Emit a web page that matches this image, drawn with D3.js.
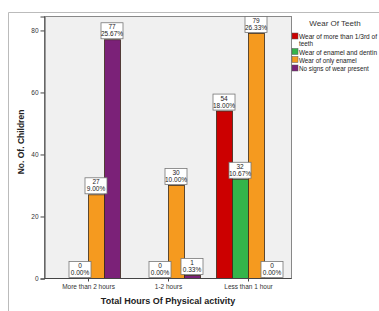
<!DOCTYPE html>
<html lang="en">
  <head>
    <meta charset="utf-8">
    <title>Wear Of Teeth</title>
    <style>
		body{
			margin:0;
			padding:0;
			background:#fff;
		}
		svg{
			display:block;
			font-family:"Liberation Sans", Arial, Helvetica, sans-serif;
		}
		.tick text{
			fill:#333;
			font-size:6.5px;
		}
		.lbl rect{
			fill:#fff;
			stroke:#777;
			stroke-width:0.8;
		}
		.lbl text{
			font-size:6.5px;
			fill:#222;
		}
    </style>
  </head>
  <body>

   <div id="container"></div>

	<script src="https://cdn.jsdelivr.net/npm/d3@7"></script>
	<script type="text/javascript">

		// categories and series
		var categories = ["More than 2 hours", "1-2 hours", "Less than 1 hour"];
		var series = ["Wear of more than 1/3rd of teeth", "Wear of enamel and dentin", "Wear of only enamel", "No signs of wear present"];
		var colors = ["#cc0000", "#34b44a", "#f59a1f", "#7b2178"];

		// counts per series, one value per category (null = not shown)
		var moreThanThird = [null, null, 54];
		var enamelDentin  = [0, 0, 32];
		var onlyEnamel    = [27, 30, 79];
		var noWear        = [77, 1, 0];

		// percentage labels
		var moreThanThirdPct = [null, null, "18.00%"];
		var enamelDentinPct  = ["0.00%", "0.00%", "10.67%"];
		var onlyEnamelPct    = ["9.00%", "10.00%", "26.33%"];
		var noWearPct        = ["25.67%", "0.33%", "0.00%"];

		var yTicks = [0, 20, 40, 60, 80];

		var values = [moreThanThird, enamelDentin, onlyEnamel, noWear];
		var pcts = [moreThanThirdPct, enamelDentinPct, onlyEnamelPct, noWearPct];

		var width = 379,
			height = 311,
			plot = {left:44, top:16, right:291, bottom:278};

		var svg = d3.select('#container').append('svg')
			.attr('width', width).attr('height', height);

		// outer frame
		svg.append('path')
			.attr('d', 'M8.5,' + height + 'V12.5H' + width)
			.attr('fill', 'none')
			.attr('stroke', '#bbb')
			.attr('stroke-width', 1);

		var y = d3.scaleLinear().domain([0, 84.5]).range([plot.bottom, plot.top]);
		var x0 = d3.scaleBand().domain(categories).range([48, 288]);
		var x1 = d3.scaleBand().domain(series).range([0, 64]);

		// plot background
		svg.append('rect')
			.attr('x', plot.left + 0.5).attr('y', plot.top + 0.5)
			.attr('width', plot.right - plot.left).attr('height', plot.bottom - plot.top)
			.attr('fill', '#f0f0f0')
			.attr('stroke', '#888')
			.attr('stroke-width', 1);

		// bars
		var rows = [];
		series.forEach(function(s, si){
			categories.forEach(function(c, ci){
				if(values[si][ci] !== null){
					rows.push({s:s, si:si, c:c, v:values[si][ci], p:pcts[si][ci]});
				}
			});
		});

		var barX = function(d){ return x0(d.c) + (x0.bandwidth() - 64) / 2 + x1(d.s); };

		svg.append('g').selectAll('rect').data(rows.filter(function(d){ return d.v > 0; })).enter()
			.append('rect')
			.attr('x', function(d){ return barX(d) + 0.5; })
			.attr('y', function(d){ return y(d.v) + 0.5; })
			.attr('width', x1.bandwidth())
			.attr('height', function(d){ return y(0) - y(d.v); })
			.attr('fill', function(d){ return colors[d.si]; })
			.attr('stroke', '#3a2a1a')
			.attr('stroke-width', 0.8);

		// axes
		var yAxis = svg.append('g')
			.attr('transform', 'translate(' + (plot.left + 0.5) + ',0.5)')
			.call(d3.axisLeft(y).tickValues(yTicks).tickSize(4).tickPadding(2));
		yAxis.select('.domain').attr('stroke', '#444');
		yAxis.selectAll('.tick line').attr('stroke', '#444');

		var xAxis = svg.append('g')
			.attr('transform', 'translate(0.5,' + (plot.bottom + 0.5) + ')')
			.call(d3.axisBottom(x0).tickSize(3).tickPadding(3).tickSizeOuter(0));
		xAxis.select('.domain').attr('d', 'M' + plot.left + ',0H' + plot.right).attr('stroke', '#444');
		xAxis.selectAll('.tick line').attr('stroke', '#444');

		// value labels
		var lbl = svg.append('g').selectAll('g').data(rows).enter()
			.append('g').attr('class', 'lbl')
			.attr('transform', function(d){
				return 'translate(' + (barX(d) + x1.bandwidth() / 2) + ',' + y(d.v) + ')';
			});
		lbl.append('rect')
			.attr('x', -11).attr('y', -16.5)
			.attr('width', 22).attr('height', 16);
		lbl.append('text')
			.attr('text-anchor', 'middle').attr('y', -10)
			.text(function(d){ return d.v; });
		lbl.append('text')
			.attr('text-anchor', 'middle').attr('y', -3)
			.text(function(d){ return d.p; });

		// axis titles
		svg.append('text')
			.attr('transform', 'translate(24,' + 142 + ') rotate(-90)')
			.attr('text-anchor', 'middle')
			.attr('font-size', '8.5px').attr('font-weight', 'bold').attr('fill', '#222')
			.text('No. Of. Children');

		svg.append('text')
			.attr('x', 168).attr('y', 304)
			.attr('text-anchor', 'middle')
			.attr('font-size', '9px').attr('font-weight', 'bold').attr('fill', '#222')
			.text('Total Hours Of Physical activity');

		// legend
		var legend = svg.append('g');
		legend.append('text')
			.attr('x', 335).attr('y', 26)
			.attr('text-anchor', 'middle')
			.attr('font-size', '8px').attr('fill', '#333')
			.text('Wear Of Teeth');

		var legLines = [["Wear of more than 1/3rd of", "teeth"], ["Wear of enamel and dentin"], ["Wear of only enamel"], ["No signs of wear present"]];
		var legY = [36.5, 52, 60, 68.5];

		var item = legend.selectAll('g.item').data(series).enter()
			.append('g').attr('class', 'item')
			.attr('transform', function(d, i){ return 'translate(292,' + legY[i] + ')'; });
		item.append('rect')
			.attr('x', 0).attr('y', -3.5).attr('width', 6).attr('height', 6)
			.attr('fill', function(d, i){ return colors[i]; })
			.attr('stroke', '#555').attr('stroke-width', 0.5);
		item.each(function(d, i){
			var g = d3.select(this);
			legLines[i].forEach(function(t, k){
				g.append('text')
					.attr('x', 7).attr('y', 2.5 + k * 7)
					.attr('font-size', '6.3px').attr('fill', '#222')
					.attr('textLength', t.length > 24 ? 78 : null)
					.attr('lengthAdjust', 'spacingAndGlyphs')
					.text(t);
			});
		});

	</script>
  </body>
</html>
